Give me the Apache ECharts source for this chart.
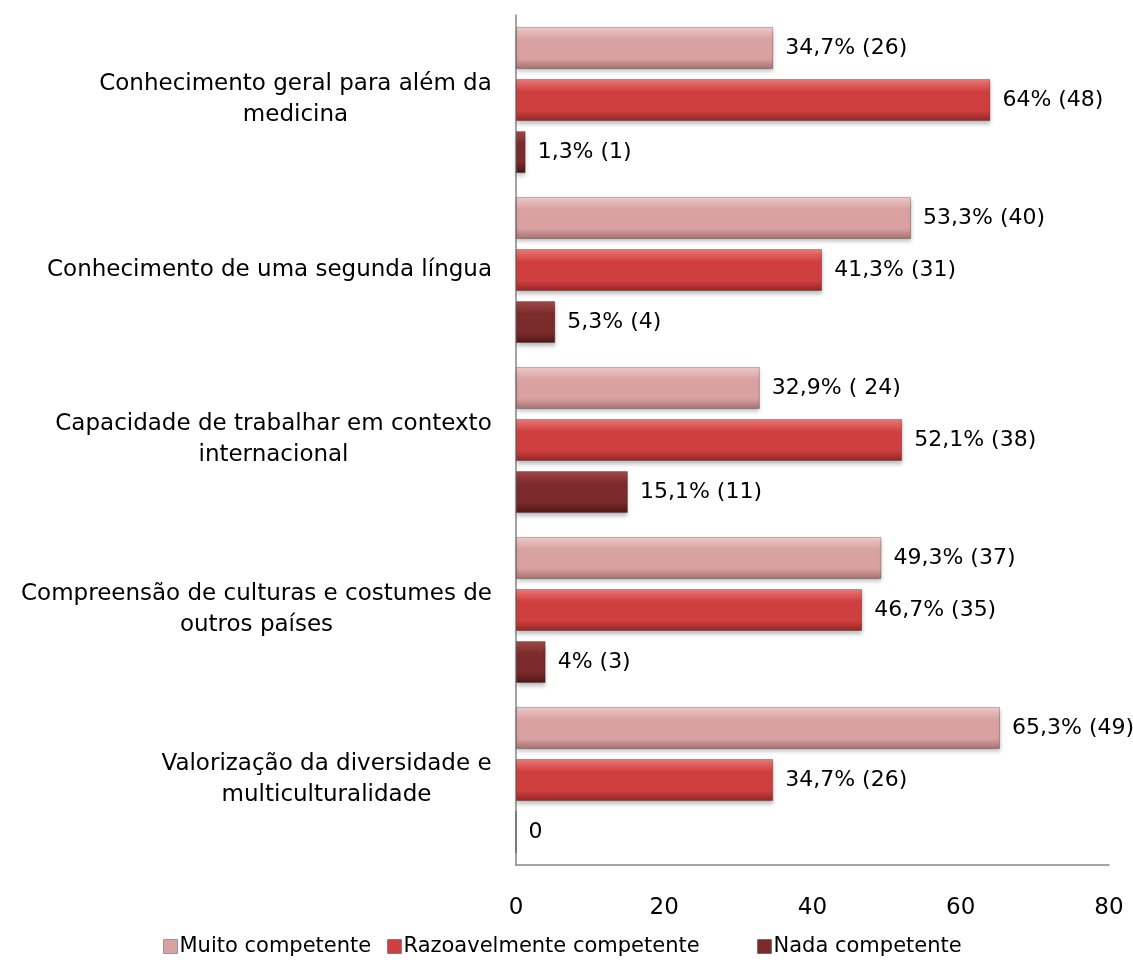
<!DOCTYPE html>
<html>
<head>
<meta charset="utf-8">
<script src="https://cdn.jsdelivr.net/npm/echarts@6/dist/echarts.min.js"></script>
<style>
  html, body { margin: 0; padding: 0; background: #fff; }
  #chart { width: 1133px; height: 967px; }
</style>
</head>
<body>
<div id="chart"></div>
<script>
// categories, top to bottom as in the picture
var categories = [
  'Conhecimento geral para além da\nmedicina',
  'Conhecimento de uma segunda língua',
  'Capacidade de trabalhar em contexto\ninternacional',
  'Compreensão de culturas e costumes de\noutros países',
  'Valorização da diversidade e\nmulticulturalidade'
];
var seriesNames = ['Muito competente', 'Razoavelmente competente', 'Nada competente'];
var muito = [34.7, 53.3, 32.9, 49.3, 65.3];
var razoavel = [64, 41.3, 52.1, 46.7, 34.7];
var nada = [1.3, 5.3, 15.1, 4, 0];
var muitoLabels = ['34,7% (26)', '53,3% (40)', '32,9% ( 24)', '49,3% (37)', '65,3% (49)'];
var razoavelLabels = ['64% (48)', '41,3% (31)', '52,1% (38)', '46,7% (35)', '34,7% (26)'];
var nadaLabels = ['1,3% (1)', '5,3% (4)', '15,1% (11)', '4% (3)', '0'];
var xTicks = [0, 20, 40, 60, 80];

var FONT = 'DejaVu Sans';
var chart = echarts.init(document.getElementById('chart'));

// measure each label so two-line labels are centred on their longest line
var ctx = document.createElement('canvas').getContext('2d');
ctx.font = '23px "' + FONT + '"';
var rich = {};
categories.forEach(function (c, i) {
  var w = 0;
  c.split('\n').forEach(function (l) { w = Math.max(w, ctx.measureText(l).width); });
  rich['c' + i] = { width: Math.ceil(w), align: 'center', fontSize: 23, fontFamily: FONT, color: '#000', lineHeight: 31 };
});

function grad(top, mid, bottom) {
  return new echarts.graphic.LinearGradient(0, 0, 0, 1, [
    { offset: 0, color: top },
    { offset: 0.3, color: mid },
    { offset: 0.75, color: mid },
    { offset: 1, color: bottom }
  ]);
}
var colors = [
  grad('#f0cccc', '#d9a1a1', '#a87272'),
  grad('#ee7a7a', '#d03f3f', '#932525'),
  grad('#a54a4a', '#7b2b2b', '#4d1616')
];
var legendColors = ['#d9a1a1', '#d03f3f', '#7b2b2b'];
var legendLeft = [158, 382, 752];

function makeSeries(idx, data, labels) {
  return {
    name: seriesNames[idx],
    type: 'bar',
    data: data,
    barGap: '24%',
    barCategoryGap: '14%',
    itemStyle: {
      color: colors[idx],
      borderColor: 'rgba(0,0,0,0.25)',
      borderWidth: 1,
      shadowColor: 'rgba(0,0,0,0.25)',
      shadowBlur: 4,
      shadowOffsetY: 3
    },
    label: {
      show: true,
      position: 'right',
      distance: 12,
      fontSize: 22,
      fontFamily: FONT,
      color: '#000',
      formatter: function (p) { return labels[p.dataIndex]; }
    }
  };
}

var option = {
  backgroundColor: '#fff',
  animation: false,
  grid: { left: 516, right: 24, top: 15, bottom: 102 },
  legend: seriesNames.map(function (n, i) {
    return {
      bottom: 5,
      left: legendLeft[i],
      itemWidth: 14,
      itemHeight: 14,
      icon: 'rect',
      textStyle: { fontSize: 21, fontFamily: FONT, color: '#000', padding: [0, 0, 0, -3] },
      data: [{ name: n, itemStyle: { color: legendColors[i], borderColor: 'rgba(0,0,0,0.3)', borderWidth: 1 } }]
    };
  }),
  xAxis: {
    type: 'value',
    min: xTicks[0],
    max: xTicks[xTicks.length - 1],
    interval: 20,
    axisLine: { show: true, lineStyle: { color: '#868686', width: 1.5 } },
    axisTick: { show: false },
    splitLine: { show: false },
    axisLabel: { fontSize: 23, fontFamily: FONT, color: '#000', margin: 32 }
  },
  yAxis: {
    type: 'category',
    inverse: true,
    data: categories,
    axisLine: { show: true, lineStyle: { color: '#868686', width: 1.5 } },
    axisTick: { show: false },
    axisLabel: {
      margin: 24,
      formatter: function (v, i) {
        return v.split('\n').map(function (l) { return '{c' + i + '|' + l + '}'; }).join('\n');
      },
      rich: rich
    }
  },
  series: [
    makeSeries(0, muito, muitoLabels),
    makeSeries(1, razoavel, razoavelLabels),
    makeSeries(2, nada, nadaLabels)
  ]
};
chart.setOption(option);
</script>
</body>
</html>
